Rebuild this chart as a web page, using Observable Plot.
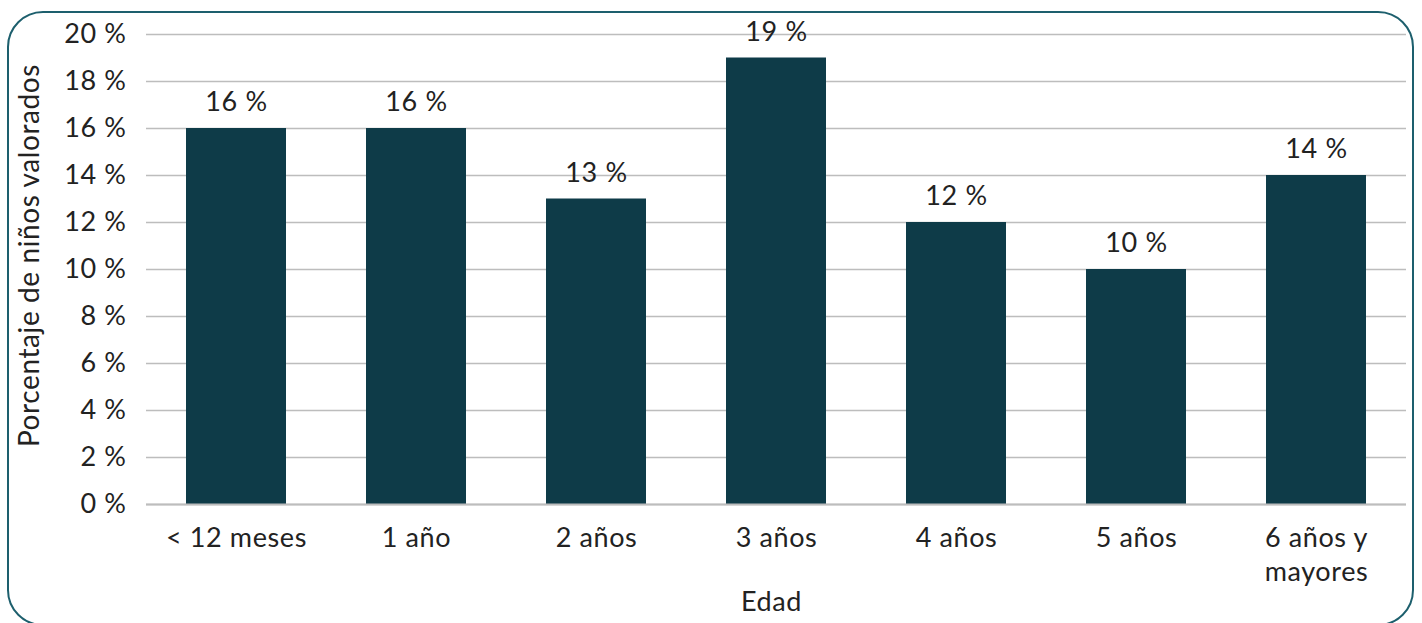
<!DOCTYPE html>
<html><head><meta charset="utf-8">
<script src="https://cdn.jsdelivr.net/npm/d3@7"></script>
<script src="https://cdn.jsdelivr.net/npm/@observablehq/plot@0.6"></script>
<style>
html,body{margin:0;padding:0;background:#fff;}
#wrap{position:relative;width:1422px;height:623px;overflow:hidden;}
#box{position:absolute;left:6.5px;top:10.5px;width:1407px;height:615px;border:2.5px solid #1d5f6d;border-radius:36px;box-sizing:border-box;}
#chart{position:absolute;left:0;top:0;}
</style></head>
<body><div id="wrap"><div id="box"></div><div id="chart"></div></div>
<script>
const categories = ["< 12 meses","1 año","2 años","3 años","4 años","5 años","6 años y\nmayores"];
const values = [16,16,13,19,12,10,14];
const yTicks = [0,2,4,6,8,10,12,14,16,18,20];
const yTitle = "Porcentaje de niños valorados";
const xTitle = "Edad";
const data = categories.map((c,i)=>({cat:c, v:values[i]}));
const font = "Lato, 'Noto Sans', sans-serif";
const fs = 27;
const chart = Plot.plot({
  width:1422, height:623,
  marginLeft:146, marginRight:16, marginTop:34, marginBottom:119,
  style:{fontFamily:font, fontSize:fs+"px", color:"#222", background:"transparent", letterSpacing:"0.6px"},
  x:{domain:categories, paddingInner:0.444, paddingOuter:0.222, label:null},
  y:{domain:[0,20], ticks:yTicks, label:null},
  marks:[
    Plot.gridY(yTicks,{stroke:"#bdbdbd", strokeOpacity:1, strokeWidth:1.5}),
    Plot.barY(data,{x:"cat", y:"v", fill:"#0e3b48"}),
    Plot.ruleY([0],{stroke:"#bdbdbd", strokeWidth:2}),
    Plot.text(data,{x:"cat", y:"v", text:d=>d.v+" %", dy:-26, fontSize:fs, fill:"#222"}),
    Plot.axisY({ticks:yTicks, tickSize:0, tickPadding:20, tickFormat:d=>d+" %", fontSize:fs, label:null}),
    Plot.axisX({tickSize:0, tickPadding:18, fontSize:fs, lineHeight:1.26, label:null}),
    Plot.text([yTitle],{frameAnchor:"left", textAnchor:"middle", dx:-116, dy:-14, rotate:-90, fontSize:fs+1, fill:"#222"}),
    Plot.text([xTitle],{frameAnchor:"bottom", dx:-5, dy:106, fontSize:fs, fill:"#222"})
  ]
});
document.getElementById("chart").appendChild(chart);
</script></body></html>
